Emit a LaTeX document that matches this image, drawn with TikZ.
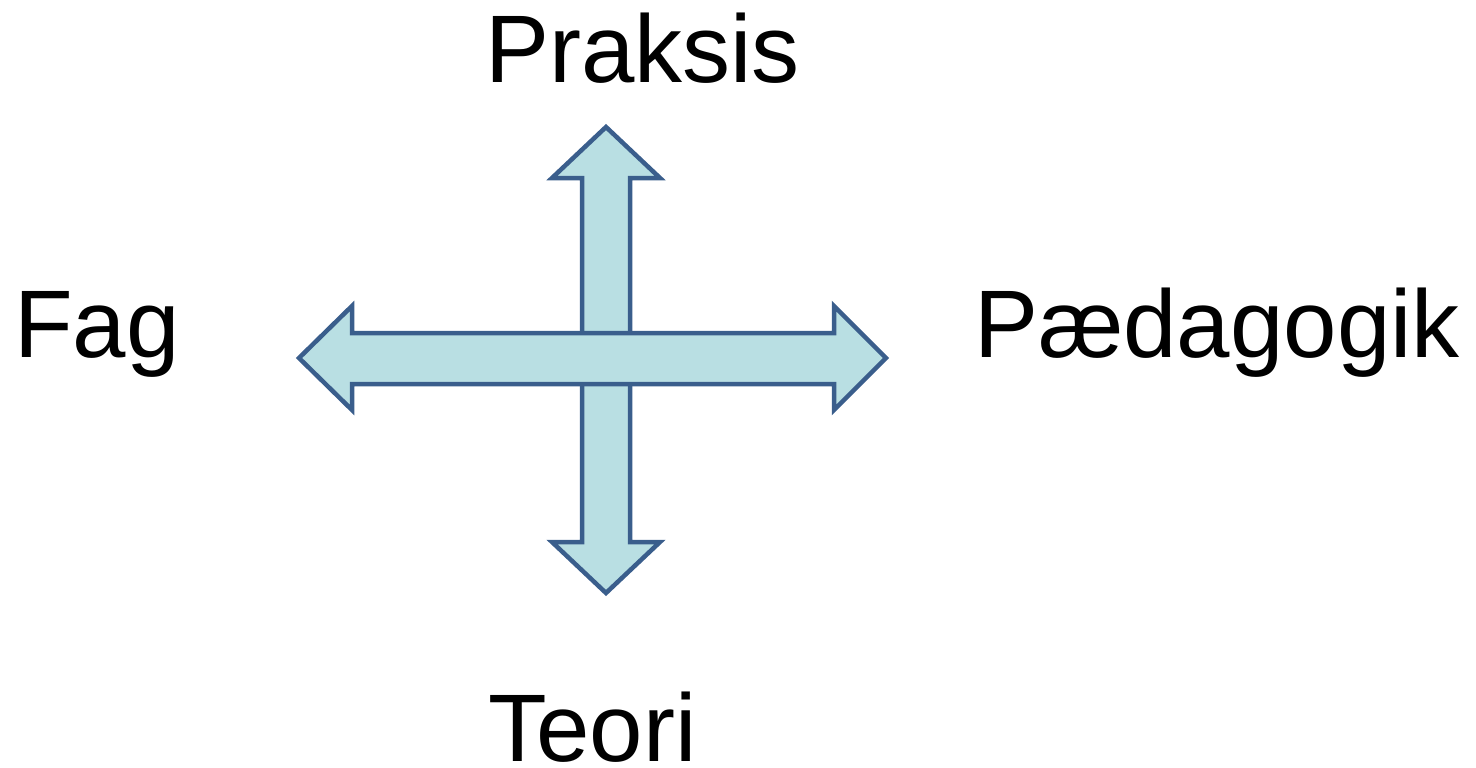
\documentclass[tikz,border=0pt]{standalone}
\usepackage{fontspec}
\setmainfont{Liberation Sans}
\definecolor{arrowfill}{HTML}{B9DFE3}
\definecolor{arrowline}{HTML}{3A5E8C}
\begin{document}
\begin{tikzpicture}[x=1pt,y=-1pt,
  lbl/.style={anchor=base west,inner sep=0pt,font=\fontsize{96}{110}\selectfont},
  blockarrow/.style={draw=arrowline,fill=arrowfill,line width=4.5pt,line join=miter}]
\useasboundingbox (0,0) rectangle (1476,768);
% vertical double arrow
\draw[blockarrow] (606,127) -- (660,178) -- (630,178) -- (630,542) -- (660,542)
  -- (606,593) -- (552,542) -- (582,542) -- (582,178) -- (552,178) -- cycle;
% horizontal double arrow
\draw[blockarrow] (299,358) -- (352,306) -- (352,333) -- (834,333) -- (834,306)
  -- (886,358) -- (834,410) -- (834,384) -- (352,384) -- (352,410) -- cycle;
\node[lbl] (praksis) at (485,83) {Praksis};
\node[lbl] (fag) at (14,357) {Fag};
\node[lbl] (paed) at (974,357) {Pædagogik};
\node[lbl] (teori) at (488,761) {Teori};
\end{tikzpicture}
\end{document}
